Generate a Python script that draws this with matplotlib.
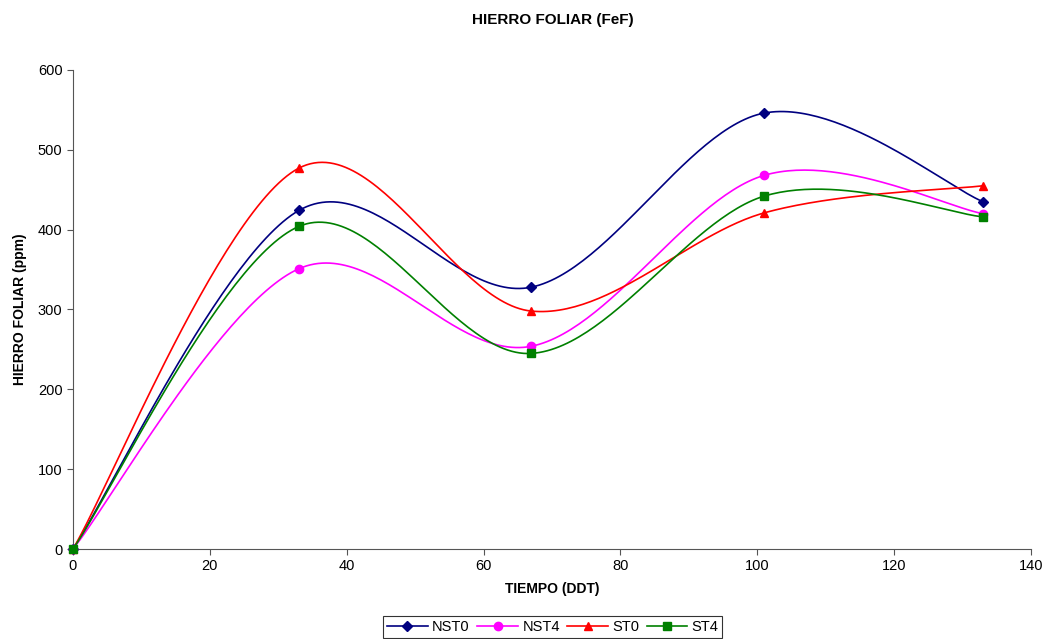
import numpy as np
import matplotlib
matplotlib.use("Agg")
import matplotlib.pyplot as plt
from matplotlib.lines import Line2D

plt.rcParams["font.family"] = ["Liberation Sans", "DejaVu Sans"]

tiempo = [0, 33, 67, 101, 133]
nst0 = [0, 424, 328, 546, 435]
nst4 = [0, 351, 254, 468, 420]
st0 = [0, 477, 298, 421, 455]
st4 = [0, 404, 245, 442, 416]

series = [
    ("NST0", nst0, "#000080", "D", 5),
    ("NST4", nst4, "#FF00FF", "o", 6),
    ("ST0", st0, "#FF0000", "^", 6),
    ("ST4", st4, "#008000", "s", 6),
]


def suavizar(x, y, n=60):
    # curva tipo Excel: Bezier con puntos de control Catmull-Rom
    x = np.asarray(x, float)
    y = np.asarray(y, float)
    pts = np.column_stack([x, y])
    salida = []
    t = np.linspace(0, 1, n)
    for i in range(len(pts) - 1):
        p0 = pts[max(i - 1, 0)]
        p1 = pts[i]
        p2 = pts[i + 1]
        p3 = pts[min(i + 2, len(pts) - 1)]
        c1 = p1 + (p2 - p0) / 6
        c2 = p2 - (p3 - p1) / 6
        seg = ((1 - t) ** 3)[:, None] * p1 + (3 * (1 - t) ** 2 * t)[:, None] * c1 \
            + (3 * (1 - t) * t ** 2)[:, None] * c2 + (t ** 3)[:, None] * p2
        salida.append(seg)
    curva = np.vstack(salida)
    return curva[:, 0], curva[:, 1]


fig = plt.figure(figsize=(10.47, 6.39), dpi=100)
ax = fig.add_axes([0.0697, 0.1408, 0.9150, 0.7497])

handles = []
for nombre, valores, color, marcador, ms in series:
    xs, ys = suavizar(tiempo, valores)
    ax.plot(xs, ys, color=color, lw=1.2, zorder=2)
    ax.plot(tiempo, valores, ls="none", marker=marcador, color=color,
            markersize=ms, zorder=3, clip_on=False)
    handles.append(Line2D([], [], color=color, lw=1.2, marker=marcador,
                          markersize=ms, label=nombre))

ax.set_xlim(0, 140)
ax.set_ylim(0, 600)
ax.set_xticks(range(0, 141, 20))
ax.set_yticks(range(0, 601, 100))
for lado in ["top", "right"]:
    ax.spines[lado].set_visible(False)
for lado in ["left", "bottom"]:
    ax.spines[lado].set_color("#555555")
ax.tick_params(colors="black", labelsize=10.5, length=4, color="#555555")

ax.set_xlabel("TIEMPO (DDT)", fontsize=10, fontweight="bold", labelpad=6)
ax.set_ylabel("HIERRO FOLIAR (ppm)", fontsize=10, fontweight="bold", labelpad=8)
fig.text(0.528, 0.969, "HIERRO FOLIAR (FeF)", ha="center", va="center",
         fontsize=11, fontweight="bold")

leg = fig.legend(handles=handles, loc="center", bbox_to_anchor=(0.528, 0.019),
                 ncol=4, fontsize=10.5, frameon=True, fancybox=False,
                 handlelength=2.8, columnspacing=0.5, handletextpad=0.3,
                 borderpad=0.25)
leg.get_frame().set_edgecolor("black")
leg.get_frame().set_linewidth(0.8)

fig.savefig("out.png", dpi=100)
